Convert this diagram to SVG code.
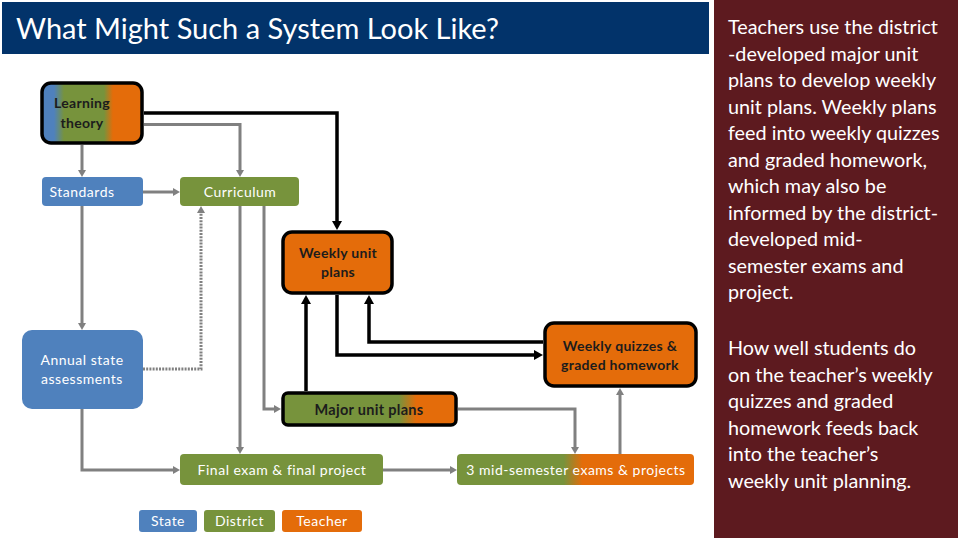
<svg xmlns="http://www.w3.org/2000/svg" width="960" height="540" viewBox="0 0 960 540">
<style>
.nt{font-family:Lato,"Liberation Sans",sans-serif;font-size:14px;letter-spacing:0.5px;fill:#ffffff;text-anchor:middle}
.bt{font-family:Lato,"Liberation Sans",sans-serif;font-size:14px;letter-spacing:0.3px;font-weight:bold;fill:#1c1c1c;text-anchor:middle}
.side{font-family:Lato,"Liberation Sans",sans-serif;font-size:19.8px;fill:#ffffff}
.g{fill:none;stroke:#808080;stroke-width:3}
.gd{fill:none;stroke:#808080;stroke-width:3;stroke-dasharray:2 1.2}
.k{fill:none;stroke:#000000;stroke-width:3.5}
.blue{fill:#4f81bd}
.green{fill:#77933c}
.orange{fill:#e46c0a}
.bx{stroke:#000000;stroke-width:3.5}
</style>
<defs>
<marker id="ag" markerWidth="8" markerHeight="10" refX="0" refY="5" orient="auto" markerUnits="userSpaceOnUse"><path d="M0,1 L7,5 L0,9 z" fill="#808080"/></marker>
<marker id="ak" markerWidth="10" markerHeight="12" refX="0" refY="6" orient="auto" markerUnits="userSpaceOnUse"><path d="M0,1 L9,6 L0,11 z" fill="#000000"/></marker>
<linearGradient id="gLT" x1="0" y1="0" x2="1" y2="0">
<stop offset="0.12" stop-color="#4f81bd"/><stop offset="0.22" stop-color="#77933c"/><stop offset="0.62" stop-color="#77933c"/><stop offset="0.71" stop-color="#e46c0a"/>
</linearGradient>
<linearGradient id="gMUP" x1="0" y1="0" x2="1" y2="0">
<stop offset="0.67" stop-color="#77933c"/><stop offset="0.77" stop-color="#e46c0a"/>
</linearGradient>
<linearGradient id="gMID" x1="0" y1="0" x2="1" y2="0">
<stop offset="0.45" stop-color="#77933c"/><stop offset="0.53" stop-color="#e46c0a"/>
</linearGradient>
</defs>
<rect x="0" y="0" width="960" height="540" fill="#ffffff"/>
<g id="title">
<rect x="2" y="2" width="707" height="52" fill="#02336a"/>
<text x="16" y="39" style="font-family:Lato,'Liberation Sans',sans-serif;font-size:29px;fill:#ffffff">What Might Such a System Look Like?</text>
</g>
<g id="sidepanel">
<rect x="714" y="0" width="244" height="538" fill="#5d1a1f"/>
<text class="side" x="728">
<tspan x="728" y="34">Teachers use the district</tspan>
<tspan x="728" y="60.5">-developed major unit</tspan>
<tspan x="728" y="87">plans to develop weekly</tspan>
<tspan x="728" y="113.5">unit plans. Weekly plans</tspan>
<tspan x="728" y="140">feed into weekly quizzes</tspan>
<tspan x="728" y="166.5">and graded homework,</tspan>
<tspan x="728" y="193">which may also be</tspan>
<tspan x="728" y="219.5">informed by the district-</tspan>
<tspan x="728" y="246">developed mid-</tspan>
<tspan x="728" y="272.5">semester exams and</tspan>
<tspan x="728" y="299">project.</tspan>
</text>
<text class="side" x="728">
<tspan x="728" y="355">How well students do</tspan>
<tspan x="728" y="381.5">on the teacher’s weekly</tspan>
<tspan x="728" y="408">quizzes and graded</tspan>
<tspan x="728" y="434.5">homework feeds back</tspan>
<tspan x="728" y="461">into the teacher’s</tspan>
<tspan x="728" y="487.5">weekly unit planning.</tspan>
</text>
</g>
<g id="connectors">
<path class="g" d="M82,145 V170" marker-end="url(#ag)"/>
<path class="g" d="M144,124.5 H240 V170" marker-end="url(#ag)"/>
<path class="g" d="M143,192 H173" marker-end="url(#ag)"/>
<path class="g" d="M82,206 V323" marker-end="url(#ag)"/>
<path class="g" d="M82,409 V470 H173" marker-end="url(#ag)"/>
<path class="gd" d="M143,369 H201 V213" marker-end="url(#ag)"/>
<path class="g" d="M240,206 V447" marker-end="url(#ag)"/>
<path class="g" d="M264,206 V409 H274" marker-end="url(#ag)"/>
<path class="g" d="M458,409 H575 V447" marker-end="url(#ag)"/>
<path class="g" d="M383,470 H450" marker-end="url(#ag)"/>
<path class="g" d="M620,454 V395" marker-end="url(#ag)"/>
<path class="k" d="M144,113 H337 V221" marker-end="url(#ak)"/>
<path class="k" d="M306,391 V304" marker-end="url(#ak)"/>
<path class="k" d="M337,295 V355 H534" marker-end="url(#ak)"/>
<path class="k" d="M543,342 H369 V304" marker-end="url(#ak)"/>
</g>
<g id="learning-theory">
<rect class="bx" x="42" y="83" width="100" height="60" rx="9" fill="url(#gLT)"/>
<text class="bt" x="82" y="108">Learning</text>
<text class="bt" x="82" y="128">theory</text>
</g>
<g id="standards">
<rect class="blue" x="42" y="177" width="101" height="29" rx="4"/>
<text class="nt" x="82" y="196.5">Standards</text>
</g>
<g id="curriculum">
<rect class="green" x="180" y="177" width="119" height="29" rx="4"/>
<text class="nt" x="240" y="196.5">Curriculum</text>
</g>
<g id="weekly-unit-plans">
<rect class="orange bx" x="283" y="232" width="109" height="61" rx="9"/>
<text class="bt" x="338" y="257.5">Weekly unit</text>
<text class="bt" x="338" y="276.5">plans</text>
</g>
<g id="annual-state-assessments">
<rect class="blue" x="22" y="330" width="121" height="79" rx="10"/>
<text class="nt" x="82" y="364.5">Annual state</text>
<text class="nt" x="82" y="383.5">assessments</text>
</g>
<g id="weekly-quizzes">
<rect class="orange bx" x="545" y="323" width="151" height="63" rx="9"/>
<text class="bt" x="620" y="350.5">Weekly quizzes &amp;</text>
<text class="bt" x="620" y="369.5">graded homework</text>
</g>
<g id="major-unit-plans">
<rect class="bx" x="283" y="393" width="173" height="32" rx="5" fill="url(#gMUP)"/>
<text class="bt" x="369" y="414.5" style="font-size:14.5px">Major unit plans</text>
</g>
<g id="final-exam">
<rect class="green" x="180" y="454" width="203" height="31" rx="4"/>
<text class="nt" x="282" y="474.5">Final exam &amp; final project</text>
</g>
<g id="mid-semester">
<rect x="457" y="454" width="237" height="31" rx="4" fill="url(#gMID)"/>
<text class="nt" x="576" y="474.5">3 mid-semester exams &amp; projects</text>
</g>
<g id="legend">
<rect class="blue" x="139" y="510" width="58" height="22" rx="3"/>
<text class="nt" x="168" y="526">State</text>
<rect class="green" x="204" y="510" width="71" height="22" rx="3"/>
<text class="nt" x="239.5" y="526">District</text>
<rect class="orange" x="282" y="510" width="80" height="22" rx="3"/>
<text class="nt" x="322" y="526">Teacher</text>
</g>
</svg>
